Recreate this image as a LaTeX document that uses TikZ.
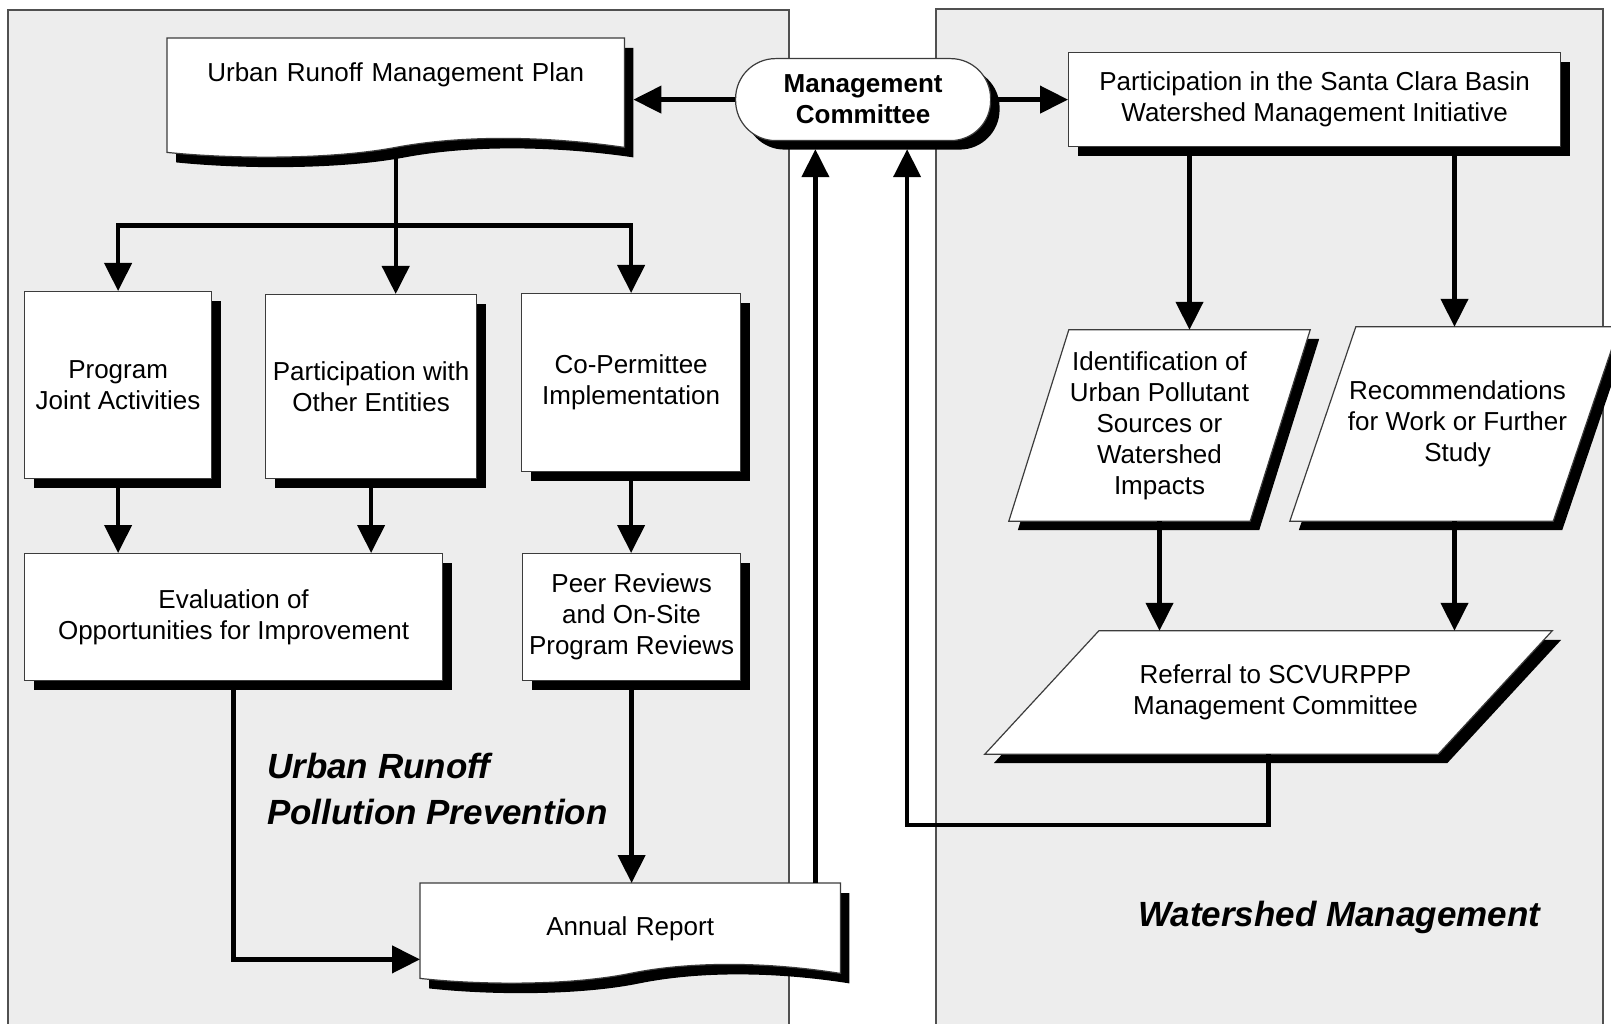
\documentclass[tikz,border=0pt]{standalone}
\usepackage{fontspec}
\setmainfont{Liberation Sans}
\usetikzlibrary{arrows.meta,calc,shadows}
\definecolor{panel}{RGB}{237,237,237}
\definecolor{edge}{RGB}{60,60,60}
\pgfdeclarelayer{back}
\pgfdeclarelayer{mid}
\pgfsetlayers{back,mid,main}
% document shape: node, dx, dy
\newcommand\docpath[3]{%
 ($(#1.north west)+(#2,#3)$) -- ($(#1.north east)+(#2,#3)$) -- ($(#1.south east)+(#2,#3-5)$)
 .. controls ($(#1.south east)!0.18!(#1.south west)+(#2,#3-17)$) and ($(#1.south east)!0.36!(#1.south west)+(#2,#3-17)$) .. ($(#1.south)+(#2,#3-5)$)
 .. controls ($(#1.south west)!0.36!(#1.south east)+(#2,#3+7)$) and ($(#1.south west)!0.15!(#1.south east)+(#2,#3+7)$) .. ($(#1.south west)+(#2,#3)$) -- cycle}
% parallelogram: node, half slant, dx, dy
\newcommand\parpath[4]{%
 ($(#1.north west)+(#2+#3,#4)$) -- ($(#1.north east)+(#2+#3,#4)$) -- ($(#1.south east)+(-#2+#3,#4)$) -- ($(#1.south west)+(-#2+#3,#4)$) -- cycle}
\begin{document}
\begin{tikzpicture}[x=1pt,y=-1pt,
  font=\fontsize{26}{31}\selectfont,
  box/.style={draw=edge, line width=1.2pt, fill=white, inner sep=0pt, align=center,
    drop shadow={shadow xshift=9pt, shadow yshift=-9pt, opacity=1, fill=black}},
  ghost/.style={inner sep=0pt, align=center},
  shapeline/.style={draw=edge, line width=1.2pt, fill=white},
  arr/.style={line width=4.3pt, -{Triangle[width=27pt,length=28pt]}},
  paneln/.style={fill=panel, draw=edge!90, line width=1.4pt},
  title/.style={font=\fontsize{35}{46}\selectfont\bfseries\itshape, inner sep=0pt, anchor=base west}]
\useasboundingbox (0,0) rectangle (1611,1024);
\begin{pgfonlayer}{back}
\fill[white] (0,0) rectangle (1611,1024);
\draw[paneln] (8,10) rectangle (789,1034);
\draw[paneln] (936,9) rectangle (1603,1034);
\end{pgfonlayer}

% rectangle boxes
\node[box, anchor=north west, minimum width=187pt, minimum height=187pt] (pja) at (24,291) {Program\\Joint Activities};
\node[box, anchor=north west, minimum width=211pt, minimum height=184pt] (pwe) at (265,294) {Participation with\\Other Entities};
\node[box, anchor=north west, minimum width=219pt, minimum height=178pt] (cpi) at (521,293) {Co-Permittee\\Implementation};
\node[box, anchor=north west, minimum width=418pt, minimum height=127pt] (eval) at (24,553) {Evaluation of\\Opportunities for Improvement};
\node[box, anchor=north west, minimum width=218pt, minimum height=127pt] (peer) at (522,553) {Peer Reviews\\and On-Site\\Program Reviews};
\node[box, anchor=north west, minimum width=492pt, minimum height=94pt] (scb) at (1068,52) {Participation in the Santa Clara Basin\\Watershed Management Initiative};
\node[box, rounded corners=40pt, anchor=north west, minimum width=255pt, minimum height=82pt,
  font=\fontsize{26}{31}\selectfont\bfseries] (mc) at (735,58) {Management\\Committee};

% document shapes
\node[ghost, anchor=north west, text width=457pt, text height=43pt, text depth=71pt] (urmp) at (167,38) {Urban Runoff Management Plan};
\node[ghost, anchor=north west, text width=420pt, text height=52pt, text depth=43pt] (ar) at (420,883) {Annual Report};
% parallelograms
\node[ghost, minimum width=241pt, minimum height=191pt] (ident) at (1159.5,425.5) {Identification of\\Urban Pollutant\\Sources or\\Watershed\\Impacts};
\node[ghost, minimum width=263pt, minimum height=194pt] (rec) at (1454.5,424) {\hspace*{6pt}Recommendations\\\hspace*{6pt}for Work or Further\\\hspace*{6pt}Study};
\node[ghost, minimum width=453pt, minimum height=123pt] (ref) at (1268.5,692.5) {\hspace*{14pt}Referral to SCVURPPP\\\hspace*{14pt}Management Committee};

\begin{pgfonlayer}{mid}
\fill[black] \docpath{urmp}{9}{10};
\draw[shapeline] \docpath{urmp}{0}{0};
\fill[black] \docpath{ar}{9}{10};
\draw[shapeline] \docpath{ar}{0}{0};
\fill[black] \parpath{ident}{30}{9}{9};
\draw[shapeline] \parpath{ident}{30}{0}{0};
\fill[black] \parpath{rec}{33}{9}{9};
\draw[shapeline] \parpath{rec}{33}{0}{0};
\fill[black] \parpath{ref}{57}{9}{9};
\draw[shapeline] \parpath{ref}{57}{0}{0};
\end{pgfonlayer}

% titles
\node[title] (t1) at (267,778) {Urban Runoff};
\node[title] (t2) at (267,824) {Pollution Prevention};
\node[title] (t3) at (1138,926) {Watershed Management};

% connectors
\coordinate (bus) at ($(urmp.south)+(0,73)$);
\draw[arr] (bus) -| (pja.north);
\draw[arr] (bus) -| (cpi.north);
\draw[arr] (urmp.south) -- (bus |- pwe.north);
\draw[arr] (pja.south) -- (pja.south |- eval.north);
\draw[arr] (pwe.south) -- (pwe.south |- eval.north);
\draw[arr] (cpi.south) -- (cpi.south |- peer.north);
\draw[arr] (peer.south) -- (peer.south |- ar.north);
\draw[arr] (eval.south) |- ($(ar.south west)+(0,-19)$);
\coordinate (mcb) at ($(mc.south)+(0,8)$);
\coordinate (arup) at ($(ar.north east)+(-25,0)$);
\draw[arr] (arup) -- (arup |- mcb);
\draw[arr] (ref.south) -- ++(0,71) -| ($(mcb)+(44,0)$);
\coordinate (urmpR) at ($(urmp.north east)+(9,0)$);
\draw[arr] (mc.west) -- (mc.west -| urmpR);
\draw[arr] (mc.east) -- (scb.west);
\coordinate (identin) at ($(ident.north)+(30,0)$);
\draw[arr] (identin |- scb.south) -- (identin);
\draw[arr] (rec.north |- scb.south) -- (rec.north);
\draw[arr] (ident.south) -- (ident.south |- ref.north);
\draw[arr] (rec.south) -- (rec.south |- ref.north);
\end{tikzpicture}
\end{document}
